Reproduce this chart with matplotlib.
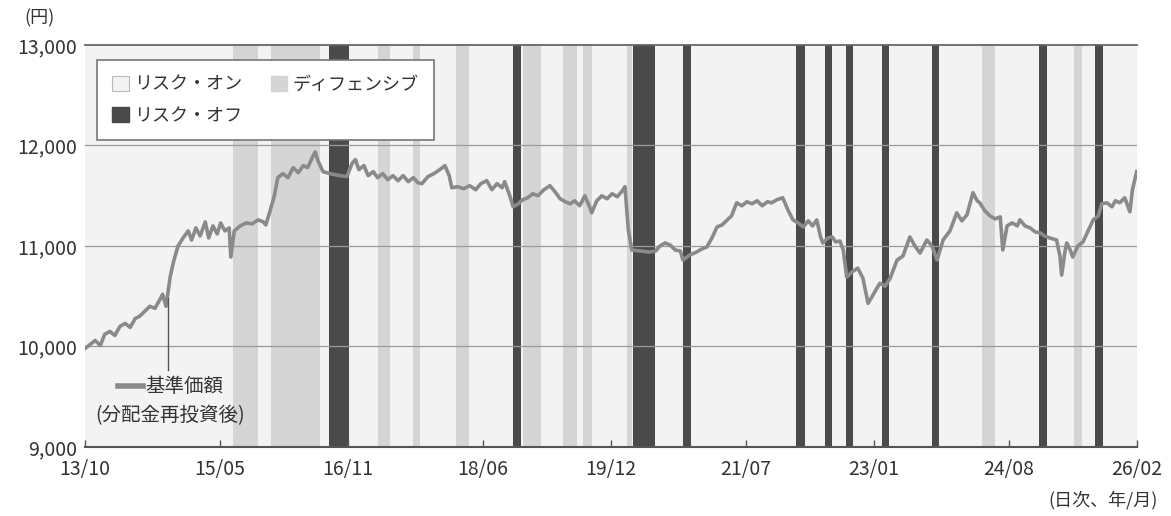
import matplotlib.pyplot as plt
from matplotlib.patches import Patch
from matplotlib.lines import Line2D

plt.rcParams['font.family'] = ['Noto Sans CJK JP', 'DejaVu Sans']

# x tick labels (yy/mm)
tick_labels = ["13/10", "15/05", "16/11", "18/06", "19/12", "21/07", "23/01", "24/08", "26/02"]

# NAV (dividends reinvested), dates as decimal years
years = [
    2013.75, 2013.81, 2013.87, 2013.93, 2013.98, 2014.04, 2014.10, 2014.16, 2014.22, 2014.28,
    2014.34, 2014.39, 2014.45, 2014.51, 2014.57, 2014.63, 2014.66, 2014.70, 2014.75, 2014.79,
    2014.84, 2014.90, 2014.96, 2015.00, 2015.05, 2015.10, 2015.16, 2015.20, 2015.25, 2015.30,
    2015.34, 2015.39, 2015.44, 2015.46, 2015.50, 2015.57, 2015.64, 2015.71, 2015.78, 2015.84,
    2015.87, 2015.92, 2015.97, 2016.01, 2016.07, 2016.13, 2016.19, 2016.25, 2016.31, 2016.36,
    2016.42, 2016.45, 2016.48, 2016.54, 2016.62, 2016.74, 2016.82, 2016.88, 2016.92, 2016.96,
    2017.02, 2017.07, 2017.13, 2017.18, 2017.24, 2017.30, 2017.36, 2017.42, 2017.48, 2017.54,
    2017.60, 2017.65, 2017.70, 2017.77, 2017.84, 2017.91, 2017.97, 2018.02, 2018.05, 2018.12,
    2018.19, 2018.26, 2018.33, 2018.39, 2018.46, 2018.52, 2018.58, 2018.64, 2018.67, 2018.73,
    2018.77, 2018.83, 2018.88, 2018.94, 2019.00, 2019.06, 2019.13, 2019.20, 2019.26, 2019.32,
    2019.38, 2019.44, 2019.49, 2019.55, 2019.61, 2019.67, 2019.69, 2019.75, 2019.81, 2019.87,
    2019.93, 2019.99, 2020.05, 2020.08, 2020.12, 2020.16, 2020.26, 2020.37, 2020.44, 2020.49,
    2020.55, 2020.61, 2020.67, 2020.73, 2020.76, 2020.84, 2020.92, 2020.98, 2021.04, 2021.10,
    2021.16, 2021.22, 2021.28, 2021.33, 2021.39, 2021.45, 2021.51, 2021.57, 2021.63, 2021.69,
    2021.75, 2021.80, 2021.86, 2021.93, 2021.99, 2022.05, 2022.11, 2022.17, 2022.23, 2022.28,
    2022.33, 2022.37, 2022.40, 2022.46, 2022.51, 2022.55, 2022.60, 2022.64, 2022.68, 2022.74,
    2022.81, 2022.87, 2022.93, 2022.98, 2023.02, 2023.07, 2023.13, 2023.19, 2023.27, 2023.34,
    2023.42, 2023.48, 2023.54, 2023.62, 2023.68, 2023.74, 2023.81, 2023.89, 2023.97, 2024.03,
    2024.09, 2024.16, 2024.21, 2024.24, 2024.30, 2024.36, 2024.42, 2024.48, 2024.51, 2024.56,
    2024.62, 2024.68, 2024.71, 2024.77, 2024.83, 2024.89, 2024.95, 2025.00, 2025.06, 2025.14,
    2025.18, 2025.20, 2025.24, 2025.26, 2025.30, 2025.33, 2025.39, 2025.45, 2025.51, 2025.57,
    2025.63, 2025.67, 2025.73, 2025.79, 2025.83, 2025.88, 2025.94, 2026.00, 2026.03, 2026.08,
]
nav = [
    9980, 10020, 10060, 10010, 10120, 10150, 10110, 10200, 10230, 10190,
    10280, 10300, 10350, 10400, 10380, 10470, 10520, 10400, 10700, 10850,
    11000, 11080, 11150, 11060, 11180, 11100, 11240, 11080, 11200, 11120,
    11230, 11150, 11180, 10890, 11150, 11200, 11230, 11220, 11260, 11240,
    11210, 11350, 11500, 11680, 11720, 11680, 11780, 11730, 11800, 11780,
    11890, 11935, 11850, 11740, 11720, 11700, 11690, 11820, 11860, 11760,
    11800, 11700, 11740, 11680, 11720, 11660, 11700, 11650, 11700, 11640,
    11680, 11630, 11620, 11690, 11720, 11760, 11800, 11700, 11580, 11590,
    11570, 11600, 11560, 11620, 11650, 11560, 11620, 11580, 11640, 11500,
    11390, 11420, 11460, 11480, 11520, 11500, 11560, 11600, 11540, 11470,
    11440, 11420, 11450, 11400, 11500, 11380, 11330, 11450, 11500, 11470,
    11520, 11490, 11550, 11590, 11160, 10960, 10950, 10940, 10950, 11000,
    11030, 11010, 10960, 10950, 10860, 10910, 10940, 10970, 10990, 11080,
    11190, 11210, 11260, 11300, 11430, 11400, 11440, 11420, 11450, 11400,
    11440, 11430, 11460, 11480, 11360, 11260, 11230, 11190, 11250, 11200,
    11260, 11100, 11030, 11080, 11090, 11040, 11050, 10960, 10690, 10740,
    10780, 10680, 10430, 10500, 10560, 10630, 10600, 10680, 10860, 10900,
    11090, 11000, 10930, 11060, 11000, 10860, 11060, 11150, 11330, 11250,
    11310, 11530, 11450, 11430, 11350, 11300, 11270, 11290, 10960, 11200,
    11230, 11200, 11260, 11200, 11180, 11140, 11130, 11100, 11080, 11060,
    10900, 10710, 10950, 11030, 10960, 10890, 11000, 11040, 11150, 11260,
    11300, 11420, 11430, 11390, 11450, 11430, 11480, 11340, 11560, 11740,
]

# regime periods (decimal years)
defensive_start = [2015.49, 2015.93, 2017.19, 2017.60, 2018.10, 2018.89, 2019.35, 2019.59, 2020.10, 2024.27, 2025.34]
defensive_end = [2015.78, 2016.51, 2017.33, 2017.68, 2018.25, 2019.10, 2019.52, 2019.69, 2020.16, 2024.42, 2025.44]
riskoff_start = [2016.61, 2018.77, 2020.17, 2020.76, 2022.09, 2022.43, 2022.67, 2023.09, 2023.68, 2024.93, 2025.59]
riskoff_end = [2016.85, 2018.86, 2020.43, 2020.85, 2022.19, 2022.51, 2022.75, 2023.18, 2023.76, 2025.03, 2025.68]

col_on = '#f3f3f3'
col_def = '#d5d5d5'
col_off = '#4a4a4a'
col_line = '#8a8a8a'


def ym(label):
    yy, mm = label.split('/')
    return 2000 + int(yy) + (int(mm) - 1) / 12


W, H = 1171, 516
fig = plt.figure(figsize=(W / 100, H / 100), dpi=100)
ax = fig.add_axes([85 / W, 1 - 447 / H, (1137 - 85) / W, (447 - 45) / H])
ax.set_facecolor(col_on)

for s, e in zip(defensive_start, defensive_end):
    ax.axvspan(s, e, color=col_def, lw=0, zorder=1)
for s, e in zip(riskoff_start, riskoff_end):
    ax.axvspan(s, e, color=col_off, lw=0, zorder=1)

for v in [10000, 11000, 12000]:
    ax.axhline(v, color='#9a9a9a', lw=0.9, zorder=2)
ax.axhline(13000, color='#666666', lw=1.3, zorder=2, clip_on=False)

ax.plot(years, nav, color=col_line, lw=2.6, zorder=3)

ax.set_xlim(ym("13/10"), ym("26/02"))
ax.set_ylim(9000, 13000)
ax.set_yticks([9000, 10000, 11000, 12000, 13000])
ax.set_yticklabels([f"{v:,}" for v in [9000, 10000, 11000, 12000, 13000]])
ax.set_xticks([ym(t) for t in tick_labels])
ax.set_xticklabels(tick_labels)
ax.tick_params(axis='y', length=0, pad=6, labelsize=14, labelcolor='#333333')
ax.tick_params(axis='x', direction='in', length=5, width=1, color='#555555',
               pad=9, labelsize=14, labelcolor='#333333')

for sp in ['left', 'right', 'top']:
    ax.spines[sp].set_visible(False)
ax.spines['bottom'].set_color('#555555')
ax.spines['bottom'].set_linewidth(1.5)
ax.spines['bottom'].set_zorder(4)

# legend
handles = [
    Patch(facecolor=col_on, edgecolor='#bbbbbb', lw=0.8, label='リスク・オン'),
    Patch(facecolor=col_off, edgecolor=col_off, label='リスク・オフ'),
    Patch(facecolor=col_def, edgecolor=col_def, label='ディフェンシブ'),
]
leg = ax.legend(handles=handles, ncol=2, loc='upper left',
                bbox_to_anchor=((97 - 85) / (1137 - 85), (447 - 60) / (447 - 45)),
                borderaxespad=0, fontsize=13, frameon=True, fancybox=False,
                handlelength=0.9, handleheight=0.9, handletextpad=0.3,
                columnspacing=1.6, labelspacing=0.75, borderpad=0.85,
                labelcolor='#333333')
leg.get_frame().set_edgecolor('#777777')
leg.get_frame().set_linewidth(1.2)
leg.get_frame().set_facecolor('white')
leg.get_frame().set_alpha(1)
leg.set_zorder(5)

# annotation for the NAV line
ax.plot([2014.72, 2014.72], [10480, 9770], color='#555555', lw=1, zorder=3)
fig.add_artist(Line2D([118 / W, 143 / W], [1 - 386 / H, 1 - 386 / H], color=col_line, lw=4))
fig.text(145 / W, 1 - 386 / H, '基準価額', ha='left', va='center', fontsize=14, color='#333333')
fig.text(170 / W, 1 - 416 / H, '(分配金再投資後)', ha='center', va='center', fontsize=14, color='#333333')

fig.text(40 / W, 1 - 18 / H, '(円)', ha='center', va='center', fontsize=13, color='#333333')
fig.text(1103 / W, 1 - 500 / H, '(日次、年/月)', ha='center', va='center', fontsize=13, color='#333333')

fig.savefig('out.png', dpi=100)
